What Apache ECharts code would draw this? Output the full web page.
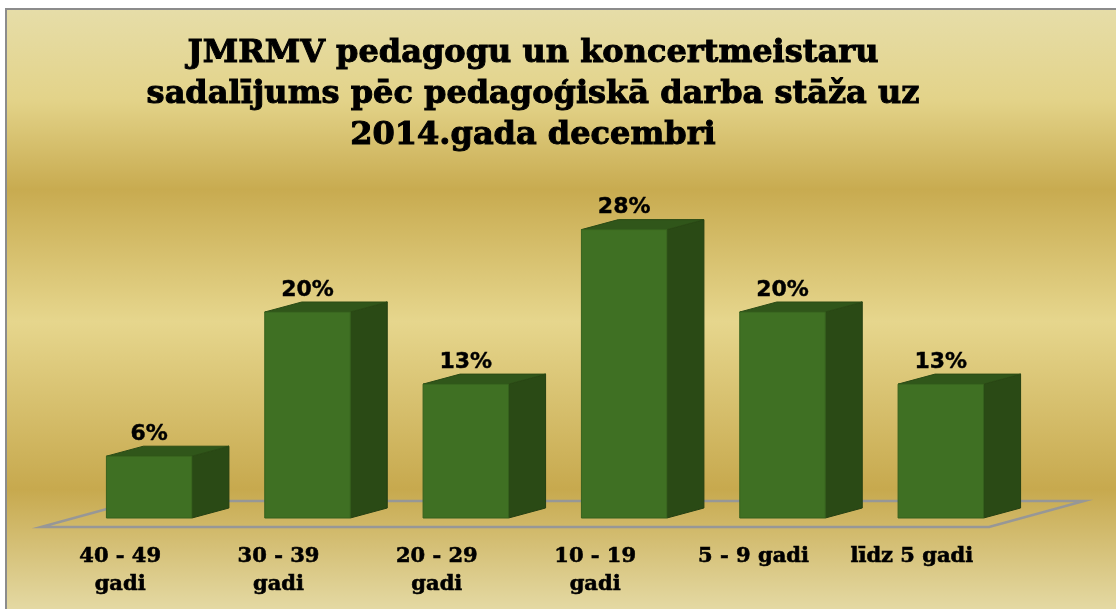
<!DOCTYPE html>
<html>
<head>
<meta charset="utf-8">
<script src="https://cdn.jsdelivr.net/npm/echarts@6/dist/echarts.min.js"></script>
<style>
  html, body { margin: 0; padding: 0; background: #fff; overflow: hidden; }
  #main {
    position: absolute; left: 5px; top: 8px;
    width: 1109px; height: 599px;
    border-top: 2px solid #8c8c8c; border-left: 2px solid #8c8c8c;
  }
</style>
</head>
<body>
<div id="main"></div>
<script>
var categories = ['40 - 49\ngadi', '30 - 39\ngadi', '20 - 29\ngadi', '10 - 19\ngadi', '5 - 9 gadi', 'līdz 5 gadi'];
var values = [6, 20, 13, 28, 20, 13];

var titleText = 'JMRMV pedagogu un koncertmeistaru\nsadalījums pēc pedagoģiskā darba stāža uz\n2014.gada decembri';

var DX = 37, DY = -10;

function renderBar(params, api) {
    var idx = api.value(0);
    var val = api.value(1);
    var top = api.coord([idx, val]);
    var base = api.coord([idx, 0]);
    var w = api.size([1, 0])[0] * 0.54;
    var x0 = top[0] - w / 2, x1 = top[0] + w / 2;
    var yt = top[1], yb = base[1];
    return {
        type: 'group',
        children: [{
            type: 'polygon',
            shape: { points: [[x1, yb], [x1, yt], [x1 + DX, yt + DY], [x1 + DX, yb + DY]] },
            style: { fill: '#2a4a15', stroke: '#243f12', lineWidth: 1 }
        }, {
            type: 'polygon',
            shape: { points: [[x0, yt], [x1, yt], [x1 + DX, yt + DY], [x0 + DX, yt + DY]] },
            style: { fill: '#30561a', stroke: '#2a4a15', lineWidth: 1 }
        }, {
            type: 'rect',
            shape: { x: x0, y: yt, width: w, height: yb - yt },
            style: { fill: '#3f7023', stroke: '#36611e', lineWidth: 1 }
        }, {
            type: 'text',
            style: {
                x: top[0], y: yt + DY - 1,
                text: val + '%',
                align: 'center', verticalAlign: 'bottom',
                font: 'bold 22px "DejaVu Sans", sans-serif',
                fill: '#000',
                stroke: '#000', lineWidth: 0.4
            }
        }]
    };
}

function renderFloor(params, api) {
    var cs = params.coordSys;
    var yb = api.coord([0, 0])[1] + 9;
    var xl = cs.x - 29, xr = cs.x + cs.width - 31;
    return {
        type: 'polygon',
        shape: { points: [[xl, yb], [xr, yb], [xr + 95, yb - 26], [xl + 95, yb - 26]] },
        style: { fill: 'none', stroke: '#979797', lineWidth: 2.5 }
    };
}

var chart = echarts.init(document.getElementById('main'));
chart.setOption({
    animation: false,
    backgroundColor: new echarts.graphic.LinearGradient(0, 0, 0, 1, [
        { offset: 0, color: '#e6dda8' },
        { offset: 0.15, color: '#e3d389' },
        { offset: 0.30, color: '#c8ab50' },
        { offset: 0.52, color: '#e6d68d' },
        { offset: 0.80, color: '#c7a94e' },
        { offset: 1, color: '#e4d9a3' }
    ]),
    title: {
        text: titleText,
        left: 521,
        top: 18,
        textAlign: 'center',
        textStyle: {
            fontFamily: '"DejaVu Serif", serif',
            fontWeight: 'bold',
            fontSize: 32,
            lineHeight: 41,
            color: '#000',
            textBorderColor: '#000',
            textBorderWidth: 1
        }
    },
    grid: { left: 63, right: 96, top: 96, bottom: 91 },
    xAxis: {
        type: 'category',
        data: categories,
        axisLine: { show: false },
        axisTick: { show: false },
        axisLabel: {
            interval: 0,
            margin: 25,
            padding: [0, 58, 0, 0],
            color: '#000',
            fontFamily: '"DejaVu Serif", serif',
            fontWeight: 'bold',
            fontSize: 21,
            lineHeight: 28,
            textBorderColor: '#000',
            textBorderWidth: 0.6
        }
    },
    yAxis: {
        type: 'value',
        min: 0, max: 40,
        show: false,
        splitLine: { show: false }
    },
    series: [{
        type: 'custom',
        name: 'floor',
        z: 1,
        silent: true,
        renderItem: renderFloor,
        data: [[0, 0]]
    }, {
        type: 'custom',
        name: 'staž',
        z: 2,
        renderItem: renderBar,
        encode: { x: 0, y: 1 },
        data: values.map(function (v, i) { return [i, v]; })
    }]
});
</script>
</body>
</html>
